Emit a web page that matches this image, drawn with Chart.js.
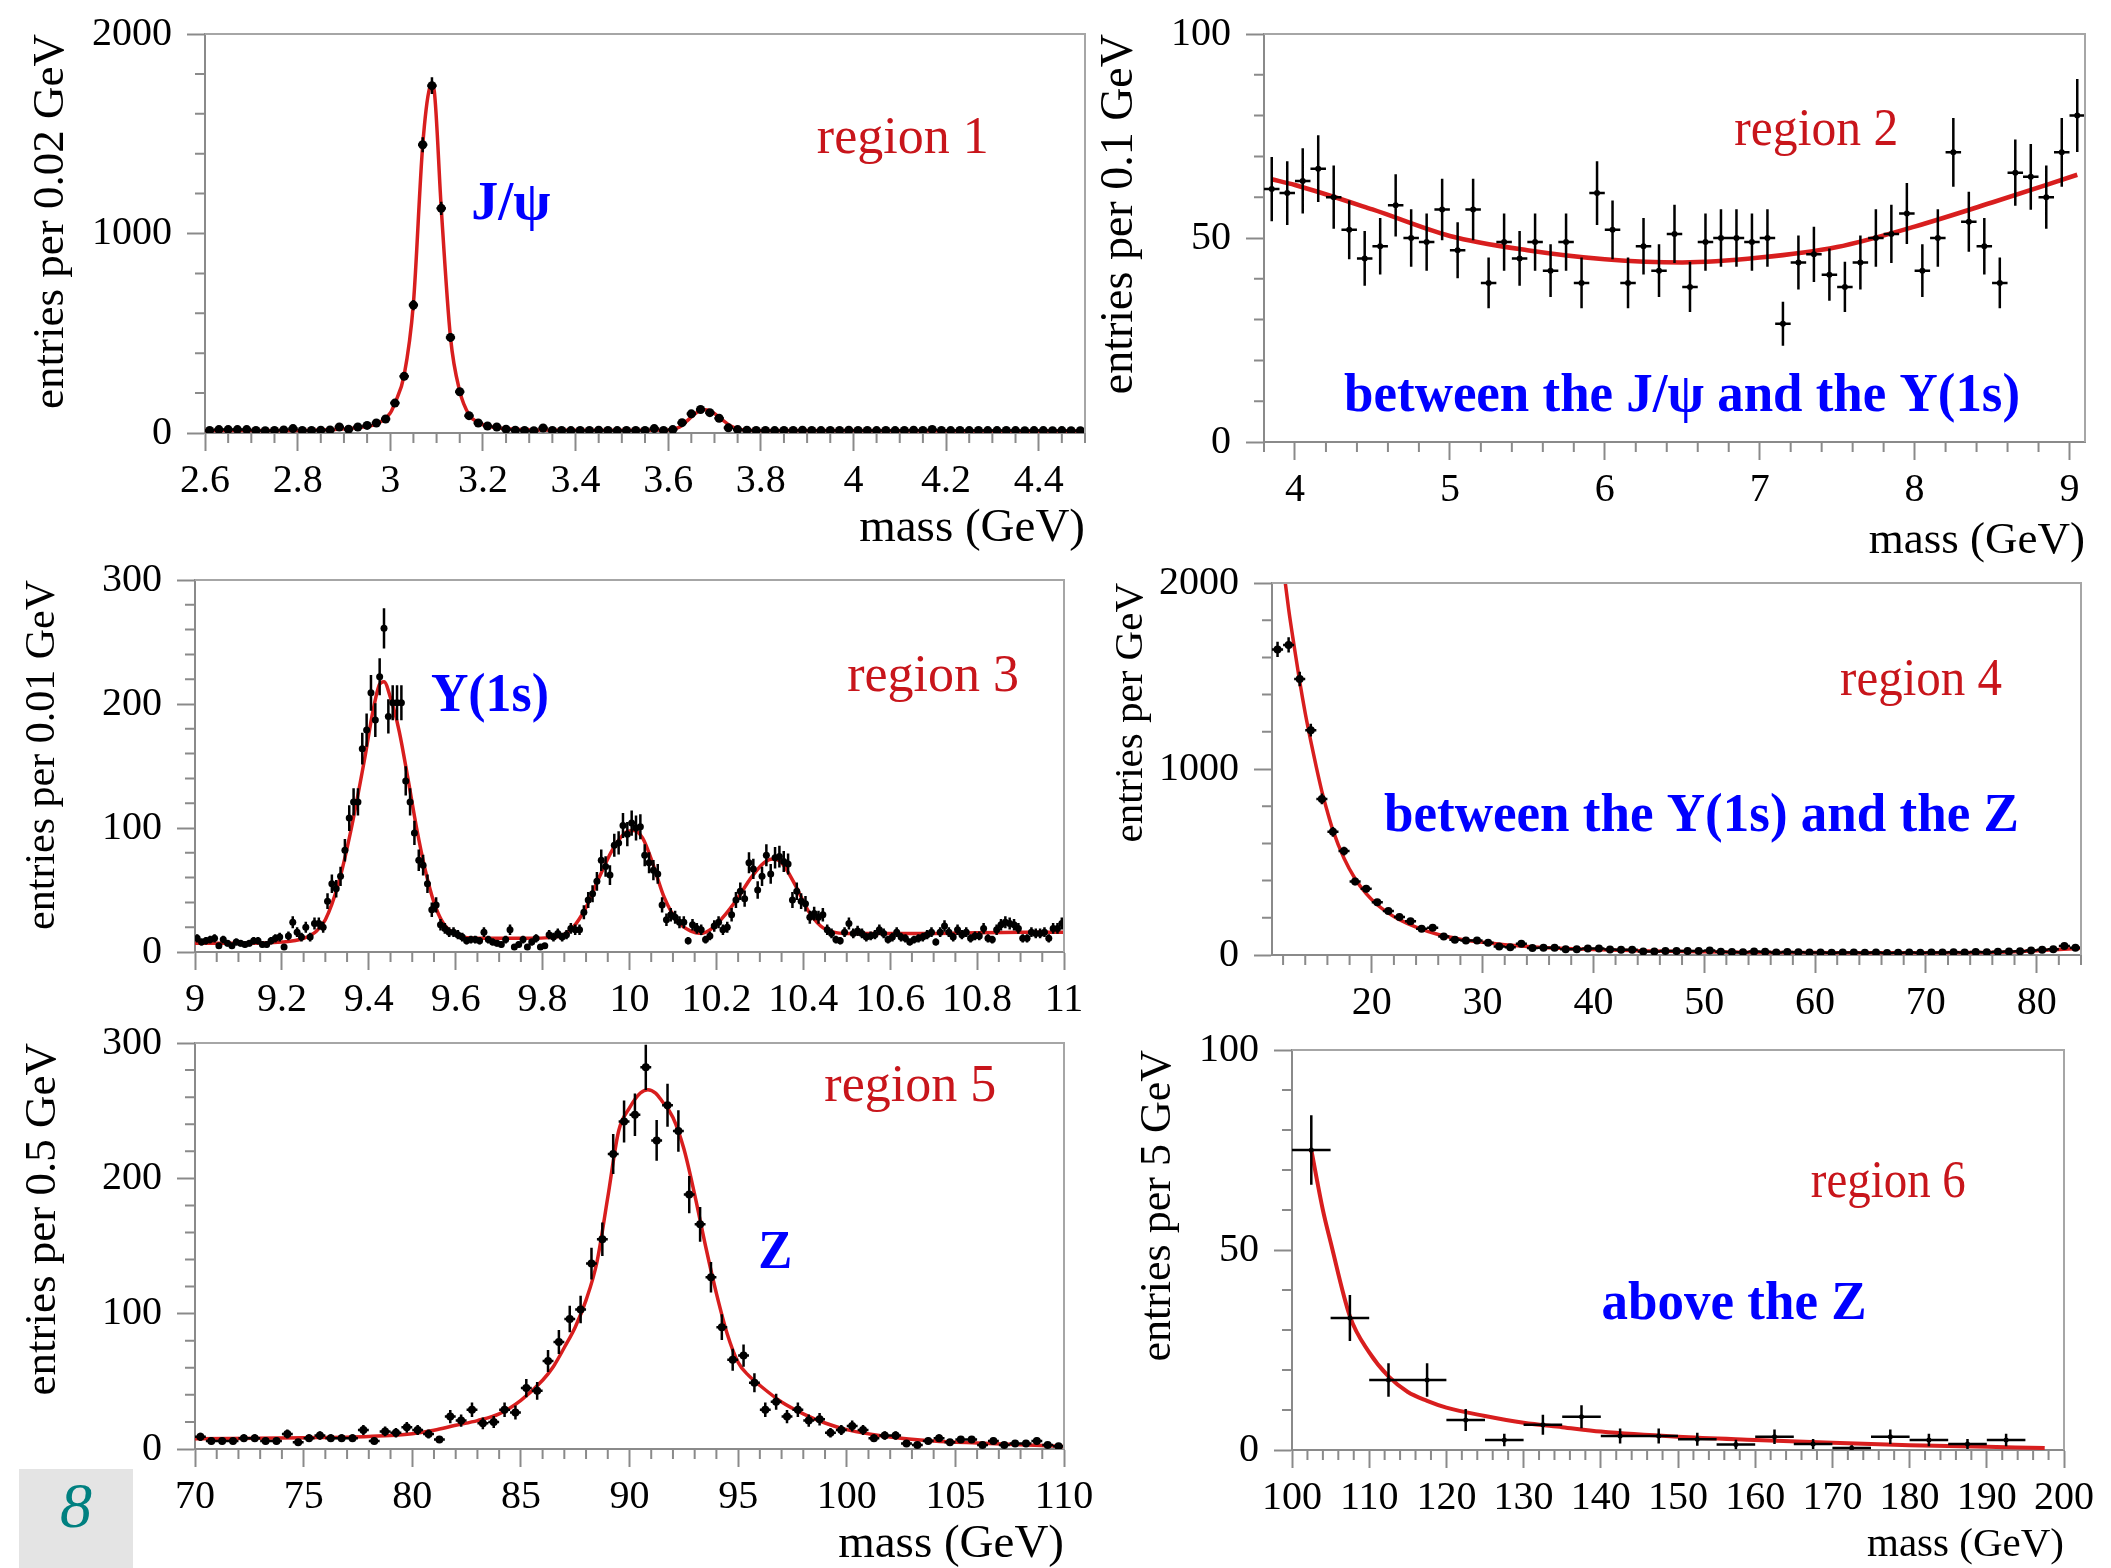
<!DOCTYPE html>
<html>
<head>
<meta charset="utf-8">
<title>dimuon mass regions</title>
<script src="https://cdn.jsdelivr.net/npm/chart.js@4.4.1/dist/chart.umd.min.js"></script>
<style>
  html, body { margin: 0; padding: 0; background: #fff; }
  #page { position: relative; width: 2111px; height: 1568px; overflow: hidden; background: #fff; }
  #page canvas { position: absolute; }
  #slideNo {
    position: absolute; left: 19px; top: 1469px; width: 114px; height: 99px;
    background: #e4e4e4; color: #008080; text-align: center; line-height: 99px;
    font: italic 64px 'Liberation Serif', 'Times New Roman', serif;
  }
</style>
</head>
<body>
<div id="page"><div id="slideNo">8</div></div>
<script>
// region 1: J/psi, 0.02 GeV bins starting at 2.6
var jpsiLo = 2.6, jpsiBin = 0.02;
var jpsiCounts = [13,17,17,17,17,13,11,13,15,22, 13,13,14,15,30,19,30,38,50,70,
  150,284,641,1445,1741,1126,479,207,87,50, 35,30,19,14,13,11,25,13,
  13,12,13,13,14,13,12,13,13,13, 22,13,17,52,96,118,102,74,26,17,
  14,13,13,12,13,13,14,13,12,13, 13,14,13,13,12,13,12,13,14,13,
  18,13,12,13,12,13,12,12,13,12, 11,12,12,11,12,11,11];
var jpsiFitMass = [2.6,2.8,2.88,2.93,2.97,3.0,3.01,3.03,3.05,3.07,3.085,3.09,3.095,3.11,3.13,3.15,3.17,3.19,3.22,3.26,
  3.32,3.5,3.6,3.625,3.645,3.665,3.68,3.695,3.715,3.735,3.76,3.8,4.0,4.5];
var jpsiFitVal = [12,13,17,27,45,100,150,290,650,1440,1730,1745,1715,1130,480,210,92,52,30,20,
  15,14,15,30,70,108,116,105,70,35,16,13,12,10];

// region 2: continuum between J/psi and Upsilon, 0.1 GeV bins
var contLo = 3.8, contBin = 0.1;
var contCounts = [62,61,64,67,60,52,45,48,58,50, 49,57,47,57,39,49,45,49,42,49,
  39,61,52,39,48,42,51,38,49,50, 50,49,50,29,44,46,41,38,44,50,
  51,56,42,50,71,54,48,39,66,65, 60,71,80];
var contFitMass = [3.85,4.0,4.5,5.0,5.5,6.0,6.5,7.0,7.5,8.0,8.5,9.05];
var contFitVal = [64.4,63,57,50.5,47,44.8,44,45.2,47.8,52.8,58.7,65.5];

// region 3: Upsilon family, 0.01 GeV bins
var upsLo = 9.0, upsBin = 0.01;
var upsCounts = [11,8,9,10,11,5,10,7,5,8, 7,6,7,9,9,6,6,9,11,12,
  4,13,24,16,12,20,12,23,23,20, 41,55,51,61,82,108,121,121,164,179,
  209,187,222,261,190,201,201,201,138,121, 96,74,70,55,34,38,22,19,16,16,
  14,12,9,10,10,9,16,10,8,7, 6,10,18,4,6,10,4,8,11,4,
  5,14,12,15,12,14,19,18,18,32, 42,47,57,74,69,62,86,88,102,95,
  104,100,101,78,72,66,63,38,26,30, 28,24,24,9,22,19,18,10,13,21,
  24,18,20,30,42,49,43,72,67,50, 61,78,63,76,77,73,71,42,49,41,
  39,28,31,28,30,18,15,10,9,16, 23,15,17,15,12,13,14,18,15,10,
  12,16,12,11,8,10,11,12,14,16, 8,16,21,16,12,18,14,16,11,13,
  13,19,11,10,18,22,24,23,22,19, 11,11,16,15,15,16,11,19,19,23];
var upsFitMass = [9.0,9.1,9.2,9.25,9.28,9.3,9.33,9.36,9.39,9.41,9.425,9.435,9.45,9.47,9.49,9.51,9.53,9.55,9.57,9.6,
  9.65,9.75,9.83,9.87,9.9,9.93,9.96,9.99,10.01,10.03,10.05,10.08,10.11,10.14,10.165,10.19,10.22,10.25,10.28,10.31,
  10.33,10.35,10.38,10.41,10.44,10.47,10.5,10.7,10.9,11.0];
var upsFitVal = [7,7,8,11,17,26,55,100,155,195,216,218,205,178,140,100,66,40,24,14,
  11,11,12,20,36,60,82,96,98,92,75,44,25,17,15,19,30,44,60,72,
  75,72,55,34,21,16,15,15,16,16];

// region 4: between Upsilon and Z, 1 GeV bins
var midLo = 11, midBin = 1;
var midCounts = [1643,1667,1484,1209,839,662,559,395,356,284, 236,204,182,141,146,100,82,78,78,66,
  46,42,60,37,39,39,31,31,35,35, 30,28,28,19,19,22,21,21,22,24,
  18,16,15,19,17,14,16,15,13,14, 12,13,14,12,13,11,12,13,12,14,
  13,15,14,16,15,17,19,20, 24,28,31,48,39];
var midFitMass = [12.2,12.5,13,13.5,14,14.5,15,15.5,16,16.5,17.5,18.5,19.5,20.5,21.5,22.5,24,26,28,30,
  32,35,40,45,50,55,60,65,70,75,78,80,82,84];
var midFitVal = [2000,1860,1660,1470,1300,1150,1010,880,770,670,520,410,330,270,225,190,150,110,85,68,
  55,42,30,22,17,14,13,12,12,14,18,23,30,36];

// region 5: Z peak, 0.5 GeV bins
var zLo = 70, zBin = 0.5;
var zCounts = [9,6,6,6,8,8,6,6,11,5, 8,10,8,8,8,14,6,13,12,16,
  14,11,7,24,21,29,19,20,29,27, 45,43,65,79,96,103,137,155,218,242,
  247,282,228,254,235,188,166,127,90,66, 69,49,29,35,24,29,21,22,12,14,
  17,14,8,10,10,4,3,6,8,5, 7,7,3,6,3,4,4,6,3,2];
var zFitMass = [70,75,78,80,81,82,83,84,85,86,86.5,87,87.5,88,88.5,89,89.5,90,90.5,90.85,
  91.2,91.5,92,92.5,93,93.5,94,94.5,95,95.5,96,97,98,99,100,102,104,106,108,110];
var zFitVal = [7.6,8.3,9.3,11.3,13.8,17.5,21,26,36,50.8,61,75,90,110,138,186,235,252,263,265.5,
  263,257,245,222,188,150,115,85,64,54,47,34.7,26,19.2,14.3,8.8,5.9,4.4,3.2,1.9];

// region 6: above the Z, 5 GeV bins
var highLo = 100, highBin = 5;
var highCounts = [75,33,17.5,17.5,7.5,2.5,6.3,8.3,3.5,3.5,2.7,1.4,3.3,1.5,0.5,3.3,2.5,1.5,2.5];
var highFitMass = [102.5,104,105,107.5,110,112.5,115,117.5,120,125,130,135,140,150,160,170,180,190,197.5];
var highFitVal = [75,60,52,33.4,24.4,18.4,14.5,12.3,10.6,8.5,6.8,5.7,4.6,3.3,2.5,1.8,1.2,0.8,0.5];

var RED = '#d81e1e', TEXT_RED = '#c8151b', BLUE = '#0000ff', AXIS = '#8a8a8a';
var SERIF = "'Liberation Serif', 'Times New Roman', serif";
Chart.defaults.font.family = SERIF;
Chart.defaults.color = '#000';

var ML = 230, MR = 50, MT = 40, MB = 140;
var page = document.getElementById('page');

function histPoints(lo, width, counts) {
  return counts.map(function (c, i) { return { x: lo + (i + 0.5) * width, y: c }; });
}
function curve(xs, ys) {
  return xs.map(function (x, i) { return { x: x, y: ys[i] }; });
}
function tickText(v) { return String(+v.toFixed(3)); }
function isMajor(v, step) { var r = v / step; return Math.abs(r - Math.round(r)) < 1e-6; }

function makePanel(p) {
  var w = p.box.r - p.box.l + ML + MR;
  var h = p.box.b - p.box.t + MT + MB;
  var canvas = document.createElement('canvas');
  canvas.width = w; canvas.height = h;
  canvas.style.left = (p.box.l - ML) + 'px';
  canvas.style.top = (p.box.t - MT) + 'px';
  canvas.style.width = w + 'px'; canvas.style.height = h + 'px';
  page.appendChild(canvas);

  var xSize = p.xTitleSize || 45;
  var yLH = p.yTitleSize * 1.2, xLH = xSize * 1.2;

  // error bars, minor ticks, frame and text labels
  var decor = {
    id: 'decor',
    afterDatasetsDraw: function (chart) {
      var ctx = chart.ctx, a = chart.chartArea, xs = chart.scales.x, ys = chart.scales.y;
      ctx.save();
      ctx.beginPath(); ctx.rect(a.left, a.top, a.right - a.left, a.bottom - a.top); ctx.clip();
      ctx.strokeStyle = '#000'; ctx.lineWidth = p.barWidth;
      ctx.beginPath();
      chart.data.datasets[0].data.forEach(function (pt) {
        var px = xs.getPixelForValue(pt.x), py = ys.getPixelForValue(pt.y), e = Math.sqrt(pt.y);
        ctx.moveTo(px, ys.getPixelForValue(pt.y + e));
        ctx.lineTo(px, ys.getPixelForValue(Math.max(pt.y - e, 0)));
        ctx.moveTo(xs.getPixelForValue(pt.x - p.bin / 2), py);
        ctx.lineTo(xs.getPixelForValue(pt.x + p.bin / 2), py);
      });
      ctx.stroke();
      ctx.restore();
    },
    afterDraw: function (chart) {
      var ctx = chart.ctx, a = chart.chartArea, xs = chart.scales.x, ys = chart.scales.y, i, v, q;
      ctx.save();
      ctx.strokeStyle = '#a6a6a6'; ctx.lineWidth = 2;
      ctx.beginPath();
      ctx.moveTo(a.left, a.top); ctx.lineTo(a.right, a.top); ctx.lineTo(a.right, a.bottom);
      ctx.stroke();

      ctx.strokeStyle = AXIS; ctx.lineWidth = 2;
      ctx.beginPath();
      for (i = Math.ceil(p.xMin / p.xMinor - 1e-6); i * p.xMinor <= p.xMax + 1e-6; i++) {
        v = i * p.xMinor;
        if (isMajor(v, p.xStep)) continue;
        q = xs.getPixelForValue(v);
        ctx.moveTo(q, a.bottom); ctx.lineTo(q, a.bottom + 10);
      }
      for (i = Math.ceil(p.yMin / p.yMinor - 1e-6); i * p.yMinor <= p.yMax + 1e-6; i++) {
        v = i * p.yMinor;
        if (isMajor(v, p.yStep)) continue;
        q = ys.getPixelForValue(v);
        ctx.moveTo(a.left - 10, q); ctx.lineTo(a.left, q);
      }
      ctx.stroke();

      ctx.textAlign = 'left'; ctx.textBaseline = 'alphabetic';
      p.labels.forEach(function (l) {
        ctx.font = l.font; ctx.fillStyle = l.color;
        ctx.fillText(l.text, xs.getPixelForValue(l.x), ys.getPixelForValue(l.y), l.maxW);
      });
      ctx.restore();
    }
  };

  new Chart(canvas, {
    type: 'scatter',
    data: {
      datasets: [{
        data: histPoints(p.lo, p.bin, p.counts),
        pointRadius: p.radius, pointBackgroundColor: '#000', pointBorderWidth: 0
      }, {
        data: curve(p.fitX, p.fitY),
        showLine: true, pointRadius: 0, borderColor: RED, borderWidth: p.fitWidth,
        cubicInterpolationMode: 'monotone', fill: false
      }]
    },
    options: {
      responsive: false, animation: false, devicePixelRatio: 1, events: [],
      layout: { padding: { left: 0, top: MT, right: MR, bottom: 0 } },
      plugins: { legend: { display: false }, tooltip: { enabled: false } },
      scales: {
        x: {
          type: 'linear', min: p.xMin, max: p.xMax,
          ticks: { stepSize: p.xStep, includeBounds: false, autoSkip: false, maxRotation: 0, minRotation: 0,
                   padding: 6, font: { size: 40 }, color: '#000', callback: tickText },
          grid: { drawOnChartArea: false, drawTicks: true, tickLength: 18, tickColor: AXIS, tickWidth: 2 },
          border: { display: true, color: AXIS, width: 2 },
          title: { display: !!p.xTitleY, text: 'mass (GeV)', align: 'end', color: '#000', font: { size: xSize },
                   padding: { top: 0, bottom: p.xTitleY ? p.box.b + MB - p.xTitleY - xLH / 2 : 0 } },
          afterFit: function (s) { s.height = MB; s.paddingLeft = 0; s.paddingRight = 0; }
        },
        y: {
          type: 'linear', min: p.yMin, max: p.yMax,
          ticks: { stepSize: p.yStep, includeBounds: false, autoSkip: false,
                   padding: 15, font: { size: 40 }, color: '#000', callback: tickText },
          grid: { drawOnChartArea: false, drawTicks: true, tickLength: 18, tickColor: AXIS, tickWidth: 2 },
          border: { display: true, color: AXIS, width: 2 },
          title: { display: true, text: p.yTitle, align: 'end', color: '#000', font: { size: p.yTitleSize },
                   padding: { top: p.yTitleX - (p.box.l - ML) - yLH / 2, bottom: 0 } },
          afterFit: function (s) { s.width = ML; s.paddingTop = 0; s.paddingBottom = 0; }
        }
      }
    },
    plugins: [decor]
  });
}

var REG = '52px ' + SERIF, BOLD = 'bold 54px ' + SERIF;

makePanel({
  box: { l: 205, t: 34, r: 1085, b: 433 },
  xMin: 2.6, xMax: 4.5, xStep: 0.2, xMinor: 0.05, yMin: 0, yMax: 2000, yStep: 1000, yMinor: 200,
  yTitle: 'entries per 0.02 GeV', yTitleSize: 45, yTitleX: 51, xTitleY: 529, xTitleSize: 47,
  lo: jpsiLo, bin: jpsiBin, counts: jpsiCounts, fitX: jpsiFitMass, fitY: jpsiFitVal,
  radius: 4.5, barWidth: 2.5, fitWidth: 3.5,
  labels: [
    { text: 'region 1', x: 3.921, y: 1402, color: TEXT_RED, font: REG, maxW: 174 },
    { text: 'J/ψ', x: 3.175, y: 1072, color: BLUE, font: BOLD, maxW: 81 }
  ]
});

makePanel({
  box: { l: 1264, t: 34, r: 2085, b: 442 },
  xMin: 3.8, xMax: 9.1, xStep: 1, xMinor: 0.2, yMin: 0, yMax: 100, yStep: 50, yMinor: 10,
  yTitle: 'entries per 0.1 GeV', yTitleSize: 46, yTitleX: 1120, xTitleY: 541, xTitleSize: 45,
  lo: contLo, bin: contBin, counts: contCounts, fitX: contFitMass, fitY: contFitVal,
  radius: 3, barWidth: 2.5, fitWidth: 4.5,
  labels: [
    { text: 'region 2', x: 6.836, y: 72.8, color: TEXT_RED, font: REG, maxW: 164 },
    { text: 'between the J/ψ and the Y(1s)', x: 4.317, y: 7.5, color: BLUE, font: BOLD, maxW: 676 }
  ]
});

makePanel({
  box: { l: 195, t: 580, r: 1064, b: 952 },
  xMin: 9, xMax: 11, xStep: 0.2, xMinor: 0.05, yMin: 0, yMax: 300, yStep: 100, yMinor: 20,
  yTitle: 'entries per 0.01 GeV', yTitleSize: 42, yTitleX: 43, xTitleY: 0,
  lo: upsLo, bin: upsBin, counts: upsCounts, fitX: upsFitMass, fitY: upsFitVal,
  radius: 3.5, barWidth: 2.5, fitWidth: 3.5,
  labels: [
    { text: 'region 3', x: 10.501, y: 210.5, color: TEXT_RED, font: REG, maxW: 172 },
    { text: 'Y(1s)', x: 9.543, y: 194, color: BLUE, font: BOLD, maxW: 118 }
  ]
});

makePanel({
  box: { l: 1272, t: 583, r: 2081, b: 955 },
  xMin: 11, xMax: 84, xStep: 10, xMinor: 2, yMin: 0, yMax: 2000, yStep: 1000, yMinor: 200,
  yTitle: 'entries per GeV', yTitleSize: 41, yTitleX: 1131, xTitleY: 0,
  lo: midLo, bin: midBin, counts: midCounts, fitX: midFitMass, fitY: midFitVal,
  radius: 4, barWidth: 2.5, fitWidth: 3.5,
  labels: [
    { text: 'region 4', x: 62.26, y: 1397, color: TEXT_RED, font: REG, maxW: 162 },
    { text: 'between the Y(1s) and the Z', x: 21.1, y: 665, color: BLUE, font: BOLD, maxW: 635 }
  ]
});

makePanel({
  box: { l: 195, t: 1043, r: 1064, b: 1449 },
  xMin: 70, xMax: 110, xStep: 5, xMinor: 1, yMin: 0, yMax: 300, yStep: 100, yMinor: 20,
  yTitle: 'entries per 0.5 GeV', yTitleSize: 45, yTitleX: 43, xTitleY: 1545, xTitleSize: 47,
  lo: zLo, bin: zBin, counts: zCounts, fitX: zFitMass, fitY: zFitVal,
  radius: 4, barWidth: 2.5, fitWidth: 3.5,
  labels: [
    { text: 'region 5', x: 98.97, y: 257.3, color: TEXT_RED, font: REG, maxW: 174 },
    { text: 'Z', x: 95.93, y: 133.7, color: BLUE, font: BOLD, maxW: 34 }
  ]
});

makePanel({
  box: { l: 1292, t: 1050, r: 2064, b: 1450 },
  xMin: 100, xMax: 200, xStep: 10, xMinor: 2, yMin: 0, yMax: 100, yStep: 50, yMinor: 10,
  yTitle: 'entries per 5 GeV', yTitleSize: 44, yTitleX: 1158, xTitleY: 1545, xTitleSize: 41,
  lo: highLo, bin: highBin, counts: highCounts, fitX: highFitMass, fitY: highFitVal,
  radius: 2.5, barWidth: 2.5, fitWidth: 4,
  labels: [
    { text: 'region 6', x: 167.2, y: 63.25, color: TEXT_RED, font: REG, maxW: 155 },
    { text: 'above the Z', x: 140.1, y: 32.75, color: BLUE, font: BOLD, maxW: 265 }
  ]
});
</script>
</body>
</html>
